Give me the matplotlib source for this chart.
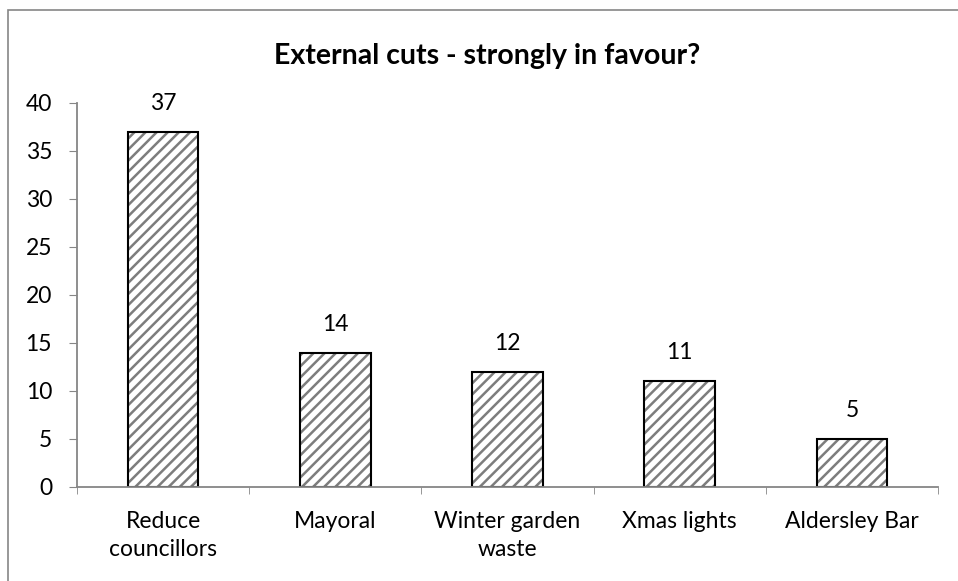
import matplotlib.pyplot as plt
from matplotlib.patches import Rectangle

plt.rcParams['font.family'] = ['Lato', 'DejaVu Sans']
plt.rcParams['hatch.linewidth'] = 1.8

categories = ['Reduce\ncouncillors', 'Mayoral', 'Winter garden\nwaste', 'Xmas lights', 'Aldersley Bar']
values = [37, 14, 12, 11, 5]


def gen_chart():
    fig = plt.figure(figsize=(9.58, 5.81), dpi=100)
    ax = fig.add_axes([0.0804, 0.1618, 0.8988, 0.661])

    x = range(len(categories))
    # hatch fill in grey, then black outline on top
    ax.bar(x, values, width=0.41, facecolor='white', edgecolor='#7d7d7d',
           linewidth=0, hatch='///')
    bars = ax.bar(x, values, width=0.41, facecolor='none', edgecolor='black',
                  linewidth=1.5)
    for b, v in zip(bars, values):
        ax.annotate(str(v), (b.get_x() + b.get_width() / 2, v), xytext=(0, 13),
                    textcoords='offset points', ha='center', va='bottom', fontsize=16.5)

    ax.set_xlim(-0.5, len(categories) - 0.5)
    ax.set_ylim(0, 40)
    ax.set_yticks(range(0, 41, 5))
    ax.set_xticks(list(x))
    ax.set_xticklabels(categories, fontsize=16.5, linespacing=1.45)
    ax.set_xticks([i - 0.5 for i in range(len(categories) + 1)], minor=True)
    ax.tick_params(axis='x', which='major', length=0, pad=17)
    ax.tick_params(axis='x', which='minor', length=5, color='#868686', direction='out')
    ax.tick_params(axis='y', length=6, color='#868686', direction='out', labelsize=16.5, pad=12)
    for s in ['top', 'right']:
        ax.spines[s].set_visible(False)
    ax.spines['left'].set_color('#868686')
    ax.spines['bottom'].set_color('#868686')
    ax.spines['left'].set_linewidth(1.3)
    ax.spines['bottom'].set_linewidth(1.3)

    fig.text(0.508, 0.903, 'External cuts - strongly in favour?', ha='center', va='center',
             fontsize=20.5, fontweight='bold')
    fig.patches.append(Rectangle((8 / 958, -0.1), 1.1, 1 - 10 / 581 + 0.1,
                                 transform=fig.transFigure, fill=False,
                                 edgecolor='#868686', linewidth=1.2))
    fig.savefig('out.png')
    plt.close(fig)


if __name__ == '__main__':
    gen_chart()
